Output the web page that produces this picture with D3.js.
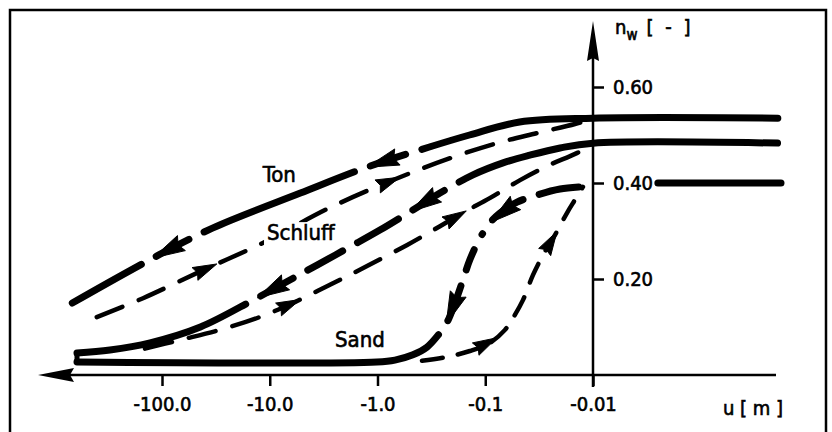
<!DOCTYPE html>
<meta charset="utf-8">
<script src="https://d3js.org/d3.v7.min.js"></script>
<style>
  body { margin: 0; background: #fff; }
  svg { display: block; background: #fff; }
  text { font-family: "Liberation Sans Narrow", "DejaVu Sans Condensed", "Liberation Sans", sans-serif; fill: #000; stroke: #000; stroke-width: 0.6px; }
  .axis text { font-size: 20px; }
  .axis line { stroke: #000; stroke-width: 2.5px; }
  .axis path { display: none; }
  .curve { fill: none; stroke: #000; stroke-linecap: round; stroke-linejoin: round; }
  .soil { font-size: 22px; }
</style>
<body></body>
<script>

// axis ticks
var uTicks = [-100, -10, -1, -0.1, -0.01];
var uTickLabels = ['-100.0', '-10.0', '-1.0', '-0.1', '-0.01'];
var nwTicks = [0.2, 0.4, 0.6];
var nwTickLabels = ['0.20', '0.40', '0.60'];

// soils
var soils = ['Ton', 'Schluff', 'Sand'];

// Ton (clay): drying and wetting branch, u [m] and n_w [-]
var tonDryU  = [-0.00018, -0.01, -0.048, -0.14, -0.33, -1.25, -5.2, -34, -116, -680];
var tonDryNw = [0.535, 0.535, 0.527, 0.50, 0.475, 0.433, 0.379, 0.306, 0.246, 0.15];
var tonWetU  = [-420, -150, -41, -11.6, -2.8, -0.72, -0.21, -0.078, -0.033, -0.0147, -0.0111];
var tonWetNw = [0.119, 0.160, 0.219, 0.275, 0.348, 0.406, 0.452, 0.483, 0.504, 0.523, 0.531];

// Schluff (silt)
var schluffDryU  = [-0.00018, -0.01, -0.0202, -0.0385, -0.0684, -0.13, -0.263, -0.5, -0.95, -1.8, -3.64, -6.5, -14.3, -44, -129, -304, -615];
var schluffDryNw = [0.483, 0.483, 0.473, 0.458, 0.442, 0.417, 0.379, 0.340, 0.302, 0.267, 0.229, 0.198, 0.156, 0.10, 0.067, 0.052, 0.046];
var schluffWetU  = [-150, -68, -29, -12.3, -6.1, -2.76, -1.25, -0.53, -0.263, -0.161, -0.09, -0.0475, -0.0251, -0.0163, -0.0111];
var schluffWetNw = [0.054, 0.073, 0.094, 0.121, 0.150, 0.188, 0.227, 0.271, 0.310, 0.338, 0.369, 0.406, 0.438, 0.456, 0.473];

// Sand
var sandDryU  = [-0.01265, -0.0202, -0.0331, -0.0507, -0.0729, -0.0904, -0.112, -0.139, -0.161, -0.191, -0.226, -0.274, -0.348, -0.469, -0.689, -1.01, -615];
var sandDryNw = [0.392, 0.3875, 0.375, 0.360, 0.3375, 0.317, 0.285, 0.24, 0.198, 0.150, 0.110, 0.083, 0.058, 0.042, 0.031, 0.027, 0.027];
var sandWetU  = [-0.404, -0.226, -0.139, -0.0904, -0.0656, -0.0552, -0.0447, -0.0361, -0.0291, -0.0225, -0.0174, -0.0147, -0.0124];
var sandWetNw = [0.029, 0.0375, 0.05, 0.067, 0.094, 0.119, 0.156, 0.208, 0.25, 0.292, 0.338, 0.365, 0.392];
var sandSatU  = [-0.0025, -0.00018];
var sandSatNw = [0.40, 0.40];

// where the direction arrows sit (u of the arrow tip)
var tonDryArrowU = [-1.25, -121];
var tonWetArrowU = [-31, -0.62];
var schluffDryArrowU = [-0.5, -13];
var schluffWetArrowU = [-5.2, -0.15];
var sandDryArrowU = [-0.09, -0.23];
var sandWetArrowU = [-0.078, -0.0216];

// extra breaks in the thick lines
var schluffDryBreakU = [-1.8];
var sandDryBreakU = [-0.117];


var width = 832, height = 432;

var svg = d3.select('body').append('svg')
    .attr('width', width)
    .attr('height', height);

// scales (log of suction, drawn towards the left)
var x = d3.scaleLog()
  .domain([100, 0.01])
  .range([162, 593]);

var y = d3.scaleLinear()
  .domain([0, 0.6])
  .range([375, 87]);

// frame
svg.append('path')
  .attr('d', 'M10,432V10H826V432')
  .attr('fill', 'none')
  .attr('stroke', '#000')
  .attr('stroke-width', 2.5);

// axes
var xAxis = d3.axisBottom(x)
  .tickValues(uTicks.map(Math.abs))
  .tickFormat(function(d, i) { return uTickLabels[i]; })
  .tickSize(11)
  .tickPadding(11)
  .tickSizeOuter(0);

var yAxis = d3.axisRight(y)
  .tickValues(nwTicks)
  .tickFormat(function(d, i) { return nwTickLabels[i]; })
  .tickSize(11)
  .tickPadding(9)
  .tickSizeOuter(0);

svg.append('g')
  .attr('class', 'x axis')
  .attr('transform', 'translate(0,' + y(0) + ')')
  .call(xAxis);

svg.append('g')
  .attr('class', 'y axis')
  .attr('transform', 'translate(' + x(0.01) + ',0)')
  .call(yAxis);

var x0 = x(0.01), y0 = y(0);
var xLeft = 38, xRight = 776, yTop = 21;

// axis lines with arrow heads
svg.append('line')
  .attr('x1', xLeft + 20).attr('x2', xRight)
  .attr('y1', y0).attr('y2', y0)
  .attr('stroke', '#000').attr('stroke-width', 2.5);
svg.append('path')
  .attr('d', 'M' + xLeft + ',' + y0 + 'L' + (xLeft + 36) + ',' + (y0 - 7) + 'L' + (xLeft + 32) + ',' + y0 + 'L' + (xLeft + 36) + ',' + (y0 + 7) + 'Z')
  .attr('fill', '#000');

svg.append('line')
  .attr('x1', x0).attr('x2', x0)
  .attr('y1', y0 + 12).attr('y2', yTop + 20)
  .attr('stroke', '#000').attr('stroke-width', 2.5);
svg.append('path')
  .attr('d', 'M' + x0 + ',' + yTop + 'L' + (x0 + 6) + ',' + (yTop + 40) + 'L' + x0 + ',' + (yTop + 37) + 'L' + (x0 - 6) + ',' + (yTop + 40) + 'Z')
  .attr('fill', '#000');

// axis titles
var yTitle = svg.append('text')
  .attr('x', 615)
  .attr('y', 34)
  .style('font-size', '20px');
yTitle.append('tspan').text('n');
yTitle.append('tspan').attr('dy', 6).style('font-size', '15px').text('w');
yTitle.append('tspan').attr('dy', -6).attr('dx', 9)
  .style('letter-spacing', '3px').text('[ - ]');

svg.append('text')
  .attr('x', 723)
  .attr('y', 415)
  .style('font-size', '20px')
  .text('u [ m ]');

// curves
var line = d3.line()
  .x(function(d) { return x(Math.abs(d.u)); })
  .y(function(d) { return y(d.nw); })
  .curve(d3.curveCatmullRom.alpha(0.5));

function pts(us, nws) {
  return us.map(function(u, i) { return {u: u, nw: nws[i]}; });
}

var dry = {width: 7, head: 32, hw: 8.5, shaft: 12, gap: 10};
var wet = {width: 4.5, head: 24, hw: 7, dash: 32, space: 13};
var wetSand = {width: 4.5, head: 24, hw: 7, dash: 25, space: 11};

var curves = [
  {data: pts(tonDryU, tonDryNw), st: dry, arrows: tonDryArrowU, breaks: []},
  {data: pts(tonWetU, tonWetNw), st: wet, arrows: tonWetArrowU},
  {data: pts(schluffDryU, schluffDryNw), st: dry, arrows: schluffDryArrowU, breaks: schluffDryBreakU},
  {data: pts(schluffWetU, schluffWetNw), st: wet, arrows: schluffWetArrowU},
  {data: pts(sandDryU, sandDryNw), st: dry, arrows: sandDryArrowU, breaks: sandDryBreakU},
  {data: pts(sandWetU, sandWetNw), st: wetSand, arrows: sandWetArrowU},
  {data: pts(sandSatU, sandSatNw), st: {width: 7}, arrows: [], breaks: []}
];

// path length at which the curve reaches a given u
function lengthAtU(node, u) {
  var px = x(Math.abs(u));
  var total = node.getTotalLength();
  var dir = node.getPointAtLength(total).x > node.getPointAtLength(0).x ? 1 : -1;
  var a = 0, b = total;
  for (var k = 0; k < 40; k++) {
    var m = (a + b) / 2;
    if ((node.getPointAtLength(m).x - px) * dir < 0) a = m; else b = m;
  }
  return (a + b) / 2;
}

function dryDash(total, tips, breaks, st) {
  var cuts = [];
  tips.forEach(function(L) {
    var base = L - st.head - st.shaft;
    cuts.push([base - st.gap, base]);
    cuts.push([L, L + st.gap]);
  });
  breaks.forEach(function(L) { cuts.push([L - st.gap / 2, L + st.gap / 2]); });
  cuts.sort(function(a, b) { return a[0] - b[0]; });
  var arr = [], pos = 0, w = st.width;
  cuts.forEach(function(c) {
    arr.push(Math.max(0.1, c[0] - pos - w), c[1] - c[0] + w);
    pos = c[1];
  });
  arr.push(total, total);
  return arr.join(',');
}

function arrowPath(node, L, st) {
  var p = node.getPointAtLength(L),
      b = node.getPointAtLength(Math.max(0, L - st.head));
  var dx = p.x - b.x, dy = p.y - b.y, len = Math.hypot(dx, dy);
  dx /= len; dy /= len;
  var nx = -dy, ny = dx;
  var bx = p.x - dx * st.head, by = p.y - dy * st.head;
  return 'M' + p.x + ',' + p.y +
    'L' + (bx + nx * st.hw) + ',' + (by + ny * st.hw) +
    'L' + (bx + dx * st.head * 0.12) + ',' + (by + dy * st.head * 0.12) +
    'L' + (bx - nx * st.hw) + ',' + (by - ny * st.hw) + 'Z';
}

curves.forEach(function(c) {
  var path = svg.append('path')
    .attr('class', 'curve')
    .attr('d', line(c.data))
    .attr('stroke-width', c.st.width);
  var node = path.node();
  var total = node.getTotalLength();
  var tips = c.arrows.map(function(u) { return lengthAtU(node, u); });

  if (c.st.dash) {
    path.attr('stroke-dasharray', (c.st.dash - c.st.width) + ',' + (c.st.space + c.st.width))
      .attr('stroke-dashoffset', -c.st.width / 2);
  } else if (c.st.head) {
    var br = c.breaks.map(function(u) { return lengthAtU(node, u); });
    path.attr('stroke-dasharray', dryDash(total, tips, br, c.st))
      .attr('stroke-dashoffset', -c.st.width / 2);
  }

  tips.forEach(function(L) {
    svg.append('path')
      .attr('d', arrowPath(node, L, c.st))
      .attr('fill', '#000')
      .attr('stroke', '#000')
      .attr('stroke-width', 1)
      .attr('stroke-linejoin', 'round');
  });
});

// short stub joining the dry ends of Schluff and Sand
var dryEnd = schluffDryU[schluffDryU.length - 1];
svg.append('line')
  .attr('x1', x(Math.abs(dryEnd))).attr('x2', x(Math.abs(dryEnd)))
  .attr('y1', y(schluffDryNw[schluffDryNw.length - 1]))
  .attr('y2', y(sandDryNw[sandDryNw.length - 1]))
  .attr('stroke', '#000').attr('stroke-width', 5).attr('stroke-linecap', 'round');

// soil names (white patch behind, so lines break around the word)
var labelPos = [{u: -11.6, nw: 0.402}, {u: -10.6, nw: 0.281}, {u: -2.48, nw: 0.058}];

var soilG = svg.selectAll('.soilGroup')
  .data(soils).enter().append('g')
  .attr('class', 'soilGroup')
  .attr('transform', function(d, i) {
    return 'translate(' + x(Math.abs(labelPos[i].u)) + ',' + y(labelPos[i].nw) + ')';
  });

var bg = soilG.append('rect').attr('fill', '#fff');

soilG.append('text')
  .attr('class', 'soil')
  .text(function(d) { return d; });

soilG.each(function() {
  var g = d3.select(this);
  var bb = g.select('text').node().getBBox();
  g.select('rect')
    .attr('x', bb.x - 3).attr('y', bb.y + 2)
    .attr('width', bb.width + 6).attr('height', bb.height);
});

</script>
